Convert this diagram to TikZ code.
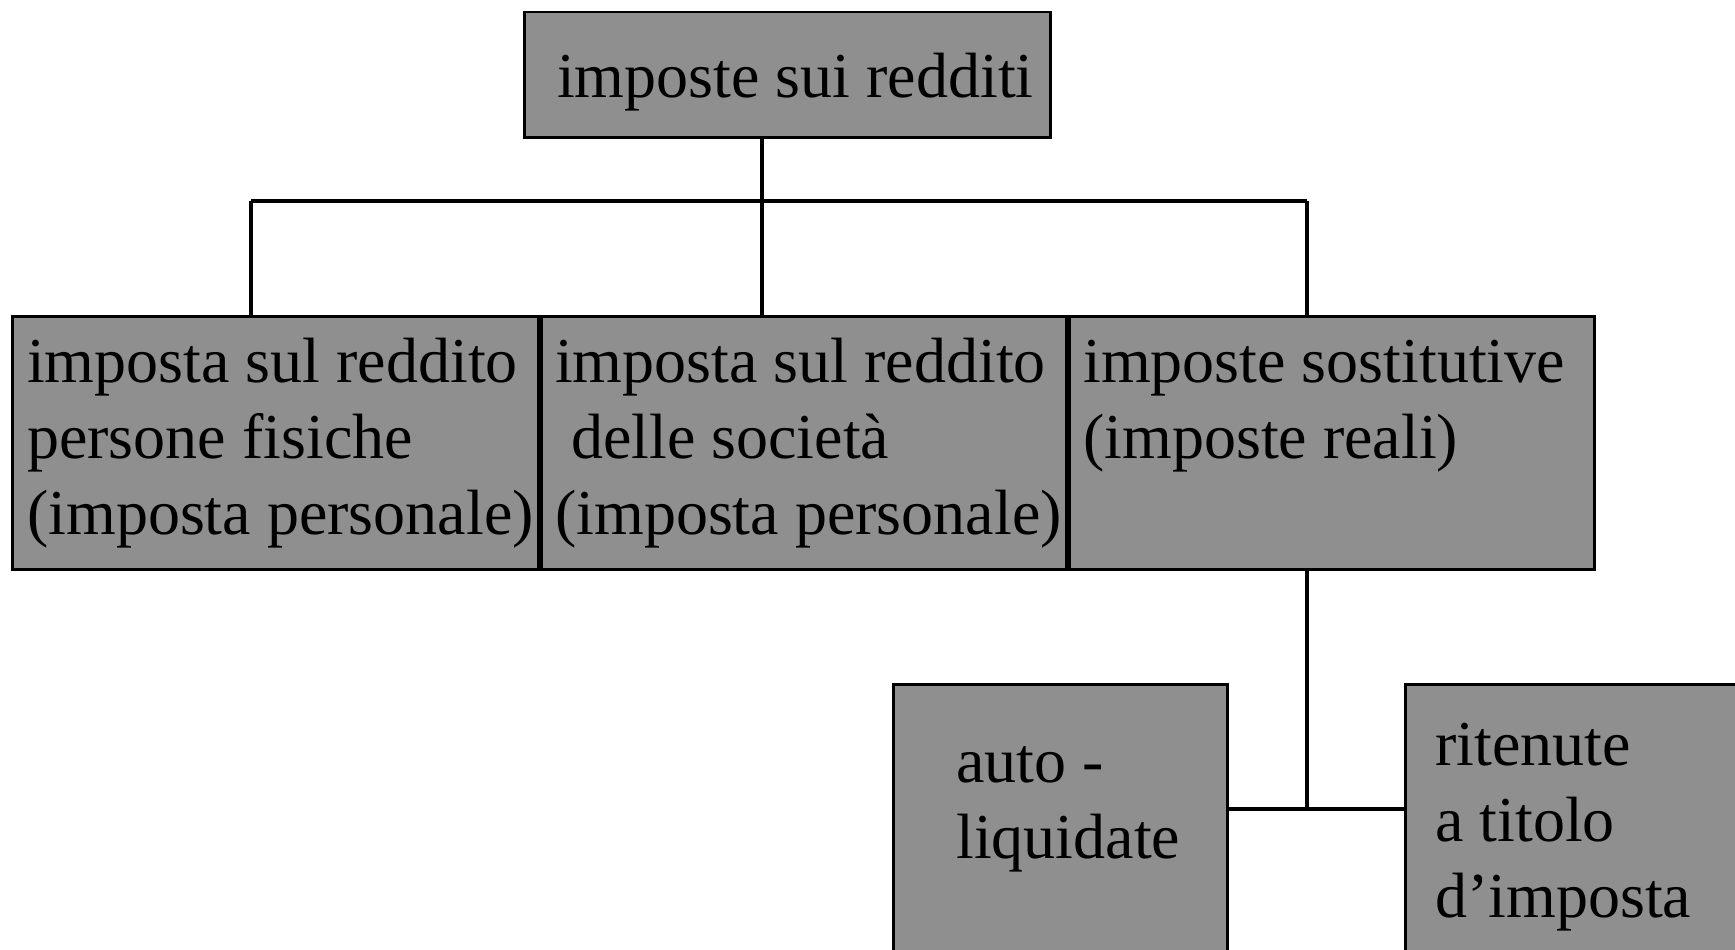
\documentclass[tikz,border=0pt]{standalone}
\usepackage{fontspec}
\setmainfont{Liberation Serif}

\definecolor{boxgray}{RGB}{143,143,143}
\tikzset{
    box/.style={draw, line width=2.5pt, fill=boxgray, anchor=north west, inner sep=0pt},
    boxtext/.style={anchor=base west, inner sep=0pt, align=left, font=\fontsize{64}{76}\selectfont},
    link/.style={line width=3.5pt}
}

\begin{document}
\begin{tikzpicture}[x=1pt, y=-1pt]
    \useasboundingbox (0,0) rectangle (1735,950);
    \clip (0,0) rectangle (1735,950);

    % boxes
    \node[box, minimum width=526pt, minimum height=125pt] (redditi) at (523,11) {};
    \node[box, minimum width=526pt, minimum height=253pt] (irpef) at (11,315) {};
    \node[box, minimum width=525pt, minimum height=253pt] (ires) at (540,315) {};
    \node[box, minimum width=525pt, minimum height=253pt] (sost) at (1068,315) {};
    \node[box, minimum width=334pt, minimum height=300pt] (auto) at (892,683) {};
    \node[box, minimum width=360pt, minimum height=300pt] (ritenute) at (1404,683) {};

    % texts (base = last line)
    \node[boxtext] (t-redditi) at (557,97) {imposte sui redditi};
    \node[boxtext] (t-irpef) at (27,534) {imposta sul reddito\\persone fisiche\\(imposta personale)};
    \node[boxtext] (t-ires) at (555,534) {imposta sul reddito\\\hspace*{0.25em}delle società\\(imposta personale)};
    \node[boxtext] (t-sost) at (1083,458) {imposte sostitutive\\(imposte reali)};
    \node[boxtext] (t-auto) at (956,858) {auto -\\liquidate};
    \node[boxtext] (t-ritenute) at (1435,917) {ritenute\\a titolo\\d’imposta};

    % connectors
    \coordinate (bus) at (762,201);
    \coordinate (busl) at (251,201);
    \coordinate (busr) at (1307,201);
    \coordinate (fork) at (1307,809);
    \draw[link] (redditi.south -| bus) -- (bus);
    \draw[link] (busl) -- (busr);
    \draw[link] (busl) -- (busl |- irpef.north);
    \draw[link] (bus) -- (bus |- ires.north);
    \draw[link] (busr) -- (busr |- sost.north);
    \draw[link] (sost.south -| fork) -- (fork);
    \draw[link] (auto.east |- fork) -- (ritenute.west |- fork);
\end{tikzpicture}
\end{document}
